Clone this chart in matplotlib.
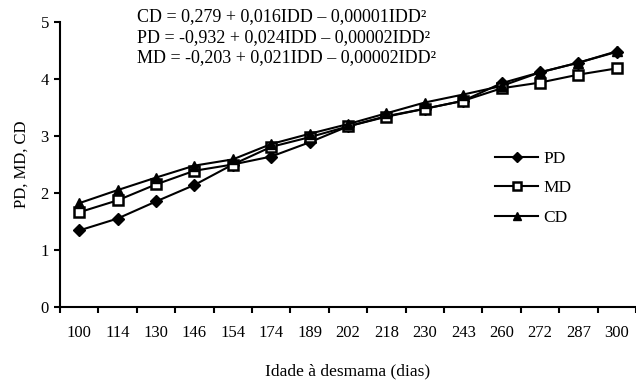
import matplotlib.pyplot as plt
import numpy as np

plt.rcParams['font.family'] = ['Liberation Serif', 'DejaVu Serif']

idade = ['100', '114', '130', '146', '154', '174', '189', '202',
         '218', '230', '243', '260', '272', '287', '300']
pd_vals = [1.34, 1.55, 1.85, 2.14, 2.50, 2.64, 2.89, 3.17,
           3.35, 3.48, 3.62, 3.93, 4.12, 4.29, 4.48]
md_vals = [1.66, 1.87, 2.15, 2.39, 2.50, 2.81, 2.98, 3.17,
           3.34, 3.48, 3.62, 3.84, 3.94, 4.08, 4.19]
cd_vals = [1.82, 2.05, 2.27, 2.48, 2.59, 2.86, 3.04, 3.21,
           3.40, 3.59, 3.73, 3.88, 4.12, 4.29, 4.49]
equacoes = ['CD = 0,279 + 0,016IDD \u2013 0,00001IDD\u00b2',
            'PD = -0,932 + 0,024IDD \u2013 0,00002IDD\u00b2',
            'MD = -0,203 + 0,021IDD \u2013 0,00002IDD\u00b2']

fig = plt.figure(figsize=(6.36, 3.8), dpi=100)
ax = fig.add_axes([60/636, 73.3/380, 576/636, 284.4/380])

x = np.arange(len(idade)) + 0.5
ax.plot(x, pd_vals, color='black', lw=1.5, marker='D', ms=6.5, label='PD', clip_on=False)
ax.plot(x, md_vals, color='black', lw=1.5, marker='s', ms=6.5, mfc='white',
        mec='black', mew=1.8, label='MD', clip_on=False)
ax.plot(x, cd_vals, color='black', lw=1.5, marker='^', ms=7.5, label='CD', clip_on=False)

ax.set_xlim(0, len(idade))
ax.set_ylim(0, 5)
ax.set_yticks(range(6))
ax.set_xticks(np.arange(len(idade) + 1))
ax.set_xticklabels([])
ax.set_xticks(x, minor=True)
ax.set_xticklabels(idade, minor=True)
ax.tick_params(axis='x', which='major', length=4.5, width=1.5, direction='out')
ax.tick_params(axis='x', which='minor', length=0, pad=13, labelsize=12)
ax.tick_params(axis='y', length=4.5, width=1.5, labelsize=12)

for s in ['top', 'right']:
    ax.spines[s].set_visible(False)
ax.spines['left'].set_linewidth(1.5)
ax.spines['bottom'].set_linewidth(1.5)

ax.set_ylabel('PD, MD, CD', fontsize=12, labelpad=8)
ax.set_xlabel('Idade \u00e0 desmama (dias)', fontsize=12.5, labelpad=16)

for i, eq in enumerate(equacoes):
    fig.text(137/636, 1 - (17 + i*20.5)/380, eq, fontsize=13, va='center', ha='left')

ax.legend(loc='upper left', bbox_to_anchor=(0.755, 0.547), frameon=False,
          fontsize=12.5, handlelength=2.5, labelspacing=0.75, handletextpad=0.3,
          borderpad=0, borderaxespad=0, markerscale=0.85)

fig.savefig('out.png', dpi=100)
